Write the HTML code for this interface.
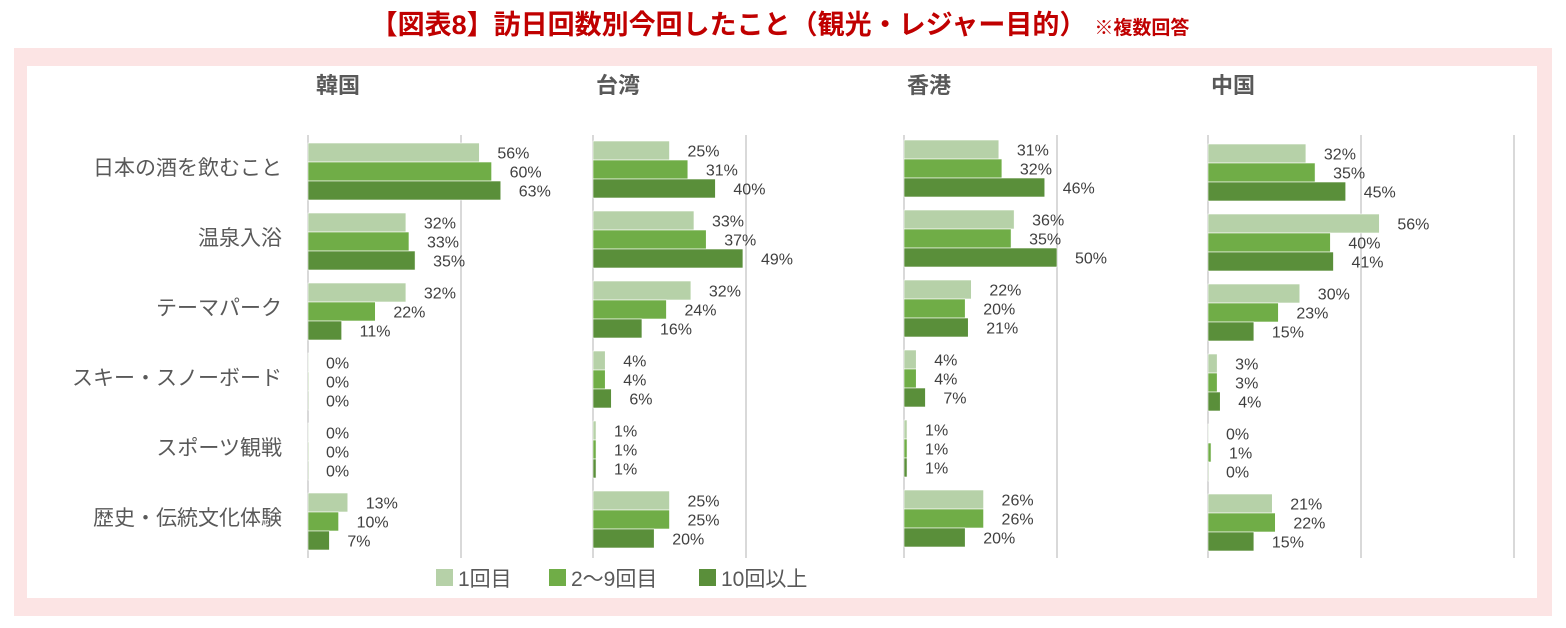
<!DOCTYPE html>
<html><head><meta charset="utf-8"><style>
body{margin:0;width:1566px;height:623px;background:#fff;overflow:hidden;font-family:"Liberation Sans","Noto Sans CJK JP",sans-serif}
</style></head><body>
<svg width="1566" height="623" xmlns="http://www.w3.org/2000/svg" font-family="Liberation Sans, Noto Sans CJK JP, sans-serif">
<text x="780" y="34" text-anchor="middle" fill="#c00000" font-size="27" font-weight="bold">【図表8】訪日回数別今回したこと（観光・レジャー目的）<tspan font-size="19" dx="8">※複数回答</tspan></text>
<rect x="14" y="48" width="1538" height="568" fill="#fce4e4"/>
<rect x="27" y="66" width="1510" height="532" fill="#fff"/>
<g id="g"></g>
</svg>
<script>
const categories=["日本の酒を飲むこと","温泉入浴","テーマパーク","スキー・スノーボード","スポーツ観戦","歴史・伝統文化体験"];
const panels=["韓国","台湾","香港","中国"];
const seriesNames=["1回目","2～9回目","10回以上"];
const korea=[[56,32,32,0,0,13],[60,33,22,0,0,10],[63,35,11,0,0,7]];
const taiwan=[[25,33,32,4,1,25],[31,37,24,4,1,25],[40,49,16,6,1,20]];
const hongkong=[[31,36,22,4,1,26],[32,35,20,4,1,26],[46,50,21,7,1,20]];
const china=[[32,56,30,3,0,21],[35,40,23,3,1,22],[45,41,15,4,0,15]];
const data=[korea,taiwan,hongkong,china];
const colors=["#b6d1a8","#70ad47","#5a8f3a"];
const axisX=[308,593,904,1208],topY=[143,141,140,144],titleX=[316,596,907,1211];
const pxPer=3.06,pitch=70,bh=19;
const g=document.getElementById('g');const NS="http://www.w3.org/2000/svg";
function mk(t,a,txt){const e=document.createElementNS(NS,t);for(const k in a)e.setAttribute(k,a[k]);if(txt!=null)e.textContent=txt;g.appendChild(e);return e;}
const sx=(p,v)=>axisX[p]+v*pxPer;
categories.forEach((c,i)=>{const e=mk('text',{x:282,y:175+i*pitch,'text-anchor':'end','font-size':21,fill:'#595959'},c);

});
panels.forEach((p,pi)=>{
 const t=mk('text',{x:titleX[pi],y:93,'font-size':22,'font-weight':'bold',fill:'#595959'},p);
 
 
 const grids=pi===3?[50,100]:[50];
 grids.forEach(v=>{const l=mk('line',{x1:sx(pi,v),x2:sx(pi,v),y1:135,y2:558,stroke:'#d9d9d9','stroke-width':2});
 
 });
 const ax=mk('line',{x1:axisX[pi],x2:axisX[pi],y1:135,y2:558,stroke:'#d9d9d9','stroke-width':2});
 
 
 data[pi].forEach((ser,si)=>{ser.forEach((v,ci)=>{
  const y=topY[pi]+ci*pitch+si*bh;
  const r=mk('rect',{x:axisX[pi],y:y,width:Math.max(v*pxPer,0.8),height:bh,fill:colors[si],stroke:'#fff','stroke-width':0.6});
  
  
  const l=mk('text',{x:sx(pi,v)+18,y:y+bh/2+6,'font-size':16,fill:'#404040'},v+'%');
  
  
 });});
});
const lx=[436,549,699];
seriesNames.forEach((n,i)=>{
 const s=mk('rect',{x:lx[i],y:569,width:17,height:17,fill:colors[i]});
 
 
 const t=mk('text',{x:lx[i]+22,y:586,'font-size':21,fill:'#595959'},n);
 
 
});
</script>
</body></html>
